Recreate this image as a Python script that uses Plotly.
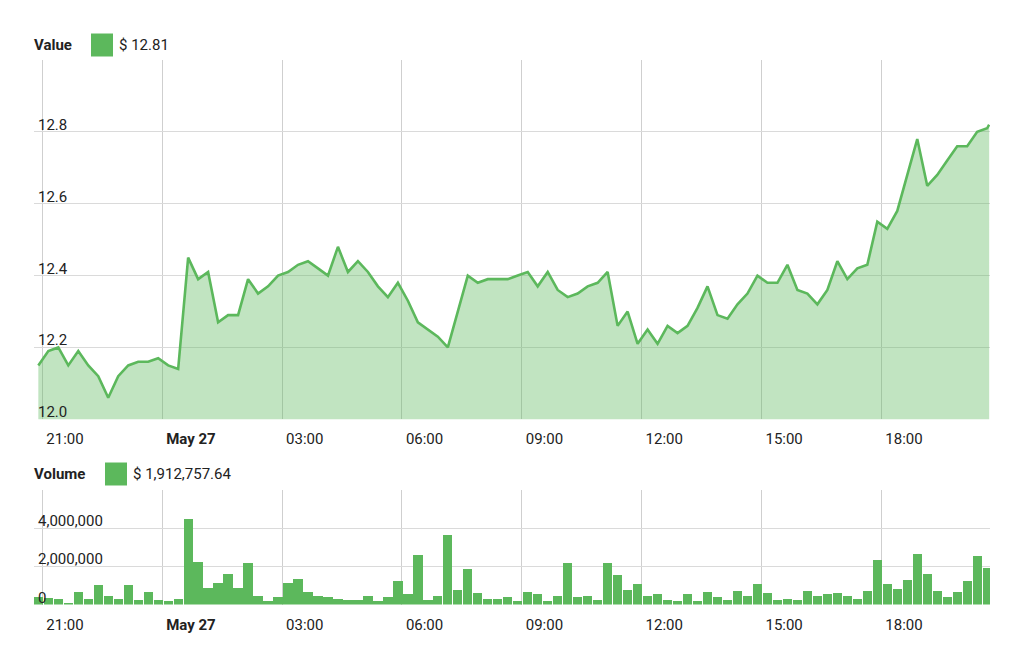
import plotly.graph_objects as go
import pandas as pd

# ---- data ----
price = [12.15, 12.19, 12.20, 12.15, 12.19, 12.15, 12.12, 12.06, 12.12, 12.15,
         12.16, 12.16, 12.17, 12.15, 12.14, 12.45, 12.39, 12.41, 12.27, 12.29,
         12.29, 12.39, 12.35, 12.37, 12.40, 12.41, 12.43, 12.44, 12.42, 12.40,
         12.48, 12.41, 12.44, 12.41, 12.37, 12.34, 12.38, 12.33, 12.27, 12.25,
         12.23, 12.20, 12.30, 12.40, 12.38, 12.39, 12.39, 12.39, 12.40, 12.41,
         12.37, 12.41, 12.36, 12.34, 12.35, 12.37, 12.38, 12.41, 12.26, 12.30,
         12.21, 12.25, 12.21, 12.26, 12.24, 12.26, 12.31, 12.37, 12.29, 12.28,
         12.32, 12.35, 12.40, 12.38, 12.38, 12.43, 12.36, 12.35, 12.32, 12.36,
         12.44, 12.39, 12.42, 12.43, 12.55, 12.53, 12.58, 12.68, 12.78, 12.65,
         12.68, 12.72, 12.76, 12.76, 12.80, 12.81, 12.82]

volume_m = [0.41, 0.35, 0.30, 0.10, 0.65, 0.30, 1.02, 0.46, 0.30, 1.02,
            0.23, 0.65, 0.23, 0.16, 0.30, 4.49, 2.25, 0.88, 1.15, 1.62,
            0.88, 2.18, 0.46, 0.16, 0.37, 1.15, 1.36, 0.65, 0.46, 0.39,
            0.30, 0.23, 0.23, 0.44, 0.16, 0.39, 1.22, 0.53, 2.61, 0.23,
            0.46, 3.64, 0.74, 1.85, 0.60, 0.30, 0.30, 0.39, 0.16, 0.65,
            0.53, 0.16, 0.46, 2.18, 0.39, 0.46, 0.23, 2.18, 1.55, 0.74,
            1.07, 0.46, 0.53, 0.23, 0.16, 0.53, 0.16, 0.65, 0.39, 0.23,
            0.72, 0.46, 1.07, 0.60, 0.23, 0.30, 0.23, 0.72, 0.46, 0.53,
            0.60, 0.46, 0.30, 0.72, 2.33, 1.07, 0.81, 1.28, 2.66, 1.62,
            0.72, 0.39, 0.65, 1.21, 2.53, 1.912757]

start_time = "2018-05-26 20:54"
step_minutes = 15
last_tick_offset_min = 3

x_tickvals = ["2018-05-26 21:00", "2018-05-27 00:00", "2018-05-27 03:00",
              "2018-05-27 06:00", "2018-05-27 09:00", "2018-05-27 12:00",
              "2018-05-27 15:00", "2018-05-27 18:00"]
x_ticktext = ["21:00", "<b>May 27</b>", "03:00", "06:00", "09:00", "12:00",
              "15:00", "18:00"]
x_range = ["2018-05-26 20:47:30", "2018-05-27 20:43:15"]

price_range = [12.0, 13.0]
price_tickvals = [12.0, 12.2, 12.4, 12.6, 12.8, 13.0]
price_ticktext = ["12.0", "12.2", "12.4", "12.6", "12.8", ""]
vol_range = [0, 6_000_000]
vol_tickvals = [0, 2_000_000, 4_000_000, 6_000_000]
vol_ticktext = ["0", "2,000,000", "4,000,000", ""]

legend_price = "$ 12.81"
legend_volume = "$ 1,912,757.64"

# ---- build ----
t0 = pd.Timestamp(start_time)
bar_times = [t0 + pd.Timedelta(minutes=step_minutes * i) for i in range(len(volume_m))]
line_times = bar_times + [bar_times[-1] + pd.Timedelta(minutes=last_tick_offset_min)]
volume = [v * 1_000_000 for v in volume_m]

GREEN = "#5cb85c"
FILL = "rgba(92,184,92,0.38)"
TXT = "#222222"
FONT = "Roboto"
FS = 15

W, H = 1024, 665
L, R = 34, 34
PW = W - L - R

def px_x(px):
    return (px - L) / PW

def px_y(py):
    return 1 - py / H

fig = go.Figure()
fig.add_trace(go.Scatter(x=line_times, y=price, mode="lines",
                         line=dict(color=GREEN, width=2.6),
                         fill="tozeroy", fillcolor=FILL,
                         xaxis="x", yaxis="y", hoverinfo="x+y"))
fig.add_trace(go.Bar(x=bar_times, y=volume, marker=dict(color=GREEN, line=dict(width=0)),
                     width=step_minutes * 60 * 1000 * 0.93,
                     xaxis="x2", yaxis="y2"))

tickfont = dict(family=FONT, size=FS, color=TXT)
xcommon = dict(type="date", range=x_range, tickmode="array", tickvals=x_tickvals,
               ticktext=x_ticktext, showgrid=True, gridcolor="#cfcfcf", gridwidth=1,
               zeroline=False, showline=False, ticks="",
               ticklabelposition="outside right", ticklabelshift=4,
               ticklabelstandoff=9,
               tickfont=tickfont, fixedrange=True)
ygrid = dict(tickmode="array", showgrid=True, gridcolor="#dadada", gridwidth=1,
             zeroline=False, showline=False, ticks="", showticklabels=False,
             fixedrange=True)

top_dom = [px_y(419.3), px_y(60)]
vol_dom = [px_y(604.5), px_y(490)]

fig.update_layout(
    width=W, height=H,
    margin=dict(l=L, r=R, t=0, b=0, autoexpand=False),
    paper_bgcolor="white", plot_bgcolor="white",
    showlegend=False, bargap=0,
    font=dict(family=FONT, size=FS, color=TXT),
    xaxis=dict(domain=[0, 1], anchor="y", **xcommon),
    yaxis=dict(domain=top_dom, anchor="x", range=price_range,
               tickvals=price_tickvals, **ygrid),
    xaxis2=dict(domain=[0, 1], anchor="y2", **xcommon),
    yaxis2=dict(domain=vol_dom, anchor="x2", range=vol_range,
                tickvals=vol_tickvals, **ygrid),
)

# y tick labels sit inside the plot, just above each gridline
for yref, vals, texts in [("y", price_tickvals, price_ticktext),
                          ("y2", vol_tickvals, vol_ticktext)]:
    for v, t in zip(vals, texts):
        if not t:
            continue
        fig.add_annotation(xref="paper", yref=yref, x=0, y=v, text=t,
                           showarrow=False, xanchor="left", yanchor="middle",
                           xshift=2, yshift=7, font=tickfont)

# legend-like headers
for label, value, cy, sq_x0, sq_x1 in [("Value", legend_price, 45, 91, 113),
                                       ("Volume", legend_volume, 474, 105, 127)]:
    fig.add_annotation(xref="paper", yref="paper", x=px_x(32), y=px_y(cy),
                       text=f"<b>{label}</b>", showarrow=False, xanchor="left",
                       yanchor="middle", font=dict(family=FONT, size=FS, color=TXT))
    fig.add_shape(type="rect", xref="paper", yref="paper",
                  x0=px_x(sq_x0), x1=px_x(sq_x1), y0=px_y(cy - 11.5), y1=px_y(cy + 11.5),
                  fillcolor=GREEN, line=dict(width=0))
    fig.add_annotation(xref="paper", yref="paper", x=px_x(sq_x1 + 4), y=px_y(cy),
                       text=value, showarrow=False, xanchor="left", yanchor="middle",
                       font=dict(family=FONT, size=FS, color=TXT))

fig.write_html("out.html", config={"displayModeBar": False},
               post_script="document.body.style.margin='0';document.body.style.overflow='hidden';")
